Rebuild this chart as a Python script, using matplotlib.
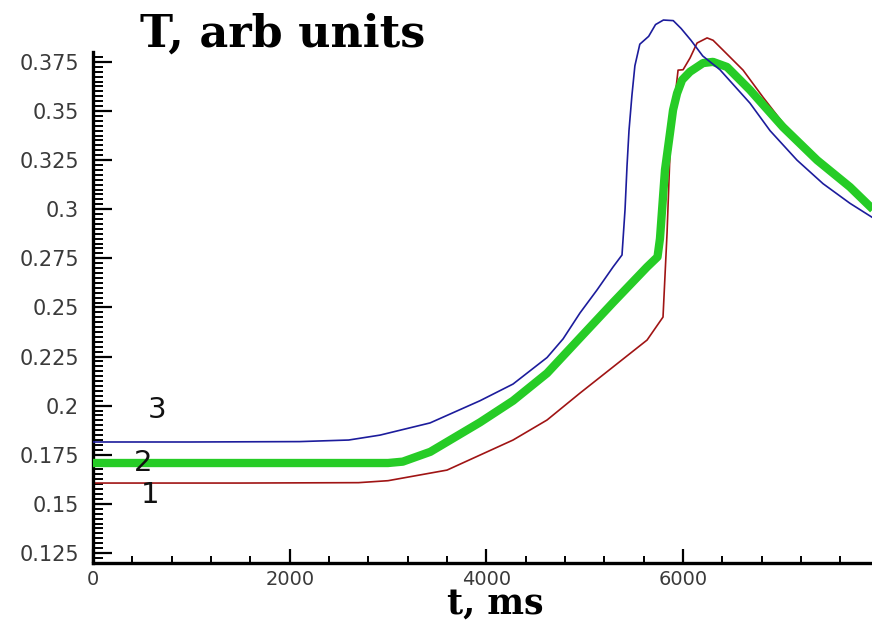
import matplotlib
matplotlib.use("Agg")
import matplotlib.pyplot as plt
from matplotlib.ticker import FixedLocator, MultipleLocator, NullFormatter

# curve 3 (blue)
t_blue = [0, 1000, 2100, 2600, 2918, 3427, 3935, 4271, 4617, 4780, 4952,
          5125, 5288, 5379, 5410, 5430, 5450, 5480, 5510, 5560, 5650,
          5720, 5800, 5900, 5980, 6080, 6200, 6375, 6680, 6884, 7158, 7423,
          7697, 7950]
v_blue = [0.1815, 0.1815, 0.1817, 0.1825, 0.185, 0.1912, 0.2025, 0.211,
          0.2245, 0.234, 0.2472, 0.2589, 0.2706, 0.2767, 0.300, 0.322,
          0.340, 0.358, 0.373, 0.384, 0.388, 0.394, 0.3963, 0.396, 0.392,
          0.386, 0.378, 0.371, 0.354, 0.340, 0.325, 0.313, 0.303, 0.295]

# curve 2 (green)
t_green = [0, 1500, 3000, 3150, 3430, 3935, 4271, 4617, 4952, 5288, 5634,
           5740, 5765, 5816, 5867, 5898, 5939, 5990, 6071, 6203, 6304,
           6447, 6680, 7016, 7362, 7697, 7950]
v_green = [0.1708, 0.1708, 0.1708, 0.1715, 0.1765, 0.1915, 0.2025, 0.2165,
           0.2345, 0.2525, 0.2706, 0.2757, 0.285, 0.32, 0.3388, 0.3505,
           0.359, 0.3658, 0.370, 0.3744, 0.375, 0.3724, 0.3607, 0.3418, 0.325,
           0.3113, 0.299]

# curve 1 (red)
t_red = [0, 1500, 2700, 3000, 3600, 4271, 4617, 4952, 5288, 5634, 5796,
         5837, 5867, 5918, 5949, 6000, 6071, 6142, 6244, 6305, 6406, 6610,
         6813, 7016, 7362, 7697, 7950]
v_red = [0.1606, 0.1606, 0.1608, 0.1618, 0.1672, 0.1825, 0.1927, 0.2064,
         0.2197, 0.2334, 0.2451, 0.2879, 0.3286, 0.357, 0.3708, 0.371, 0.377,
         0.3846, 0.3872, 0.386, 0.381, 0.3708, 0.357, 0.3439, 0.3265,
         0.3125, 0.300]

ytick_vals = [0.125, 0.15, 0.175, 0.2, 0.225, 0.25, 0.275, 0.3, 0.325, 0.35, 0.375]
ytick_labels = ["0.125", "0.15", "0.175", "0.2", "0.225", "0.25", "0.275",
                "0.3", "0.325", "0.35", "0.375"]
xtick_vals = [0, 2000, 4000, 6000]
xtick_labels = ["0", "2000", "4000", "6000"]

# curve labels: (text, t, value)
curve_labels = [("3", 650, 0.1978), ("2", 508, 0.1708), ("1", 580, 0.1545)]

W, H = 872, 624
fig = plt.figure(figsize=(W / 100, H / 100), dpi=100)
ax = fig.add_axes([93 / W, 61 / H, 779 / W, 563 / H])

ax.plot(t_red, v_red, color="#a01414", lw=1.2, zorder=2)
ax.plot(t_green, v_green, color="#26cc26", lw=6, zorder=3,
        solid_capstyle="butt")
ax.plot(t_blue, v_blue, color="#1c1c9c", lw=1.2, zorder=4)

ax.set_xlim(0, 7921)
ax.set_ylim(0.1199, 0.4065)

for side in ("top", "right"):
    ax.spines[side].set_visible(False)
ax.spines["left"].set_bounds(0.1199, 0.38)
for side in ("left", "bottom"):
    ax.spines[side].set_linewidth(2.4)

ax.yaxis.set_major_locator(FixedLocator(ytick_vals))
ax.set_yticklabels(ytick_labels)
ax.yaxis.set_minor_locator(FixedLocator(
    [0.1225 + 0.0025 * i for i in range(103) if 0.12 < 0.1225 + 0.0025 * i < 0.38]))
ax.xaxis.set_major_locator(FixedLocator(xtick_vals))
ax.set_xticklabels(xtick_labels)
ax.xaxis.set_minor_locator(MultipleLocator(400))
ax.yaxis.set_minor_formatter(NullFormatter())

ax.tick_params(axis="y", which="major", direction="in", length=14, width=1.6,
               labelsize=15, labelcolor="#3a3a3a", pad=10)
ax.tick_params(axis="y", which="minor", direction="in", length=7, width=1.4)
ax.tick_params(axis="x", which="major", direction="in", length=10, width=1.6,
               labelsize=14, labelcolor="#3a3a3a", pad=5)
ax.tick_params(axis="x", which="minor", direction="in", length=5, width=1.4)

for txt, tx, ty in curve_labels:
    ax.text(tx, ty, txt, fontsize=21, ha="center", va="center", color="#111111")

fig.text(140 / W, 1 - 47 / H, "T, arb units", fontsize=32, fontweight="bold",
         family="DejaVu Serif", ha="left", va="baseline")
fig.text(495 / W, 1 - 614 / H, "t, ms", fontsize=25, fontweight="bold",
         family="DejaVu Serif", ha="center", va="baseline")

fig.savefig("out.png", dpi=100)
